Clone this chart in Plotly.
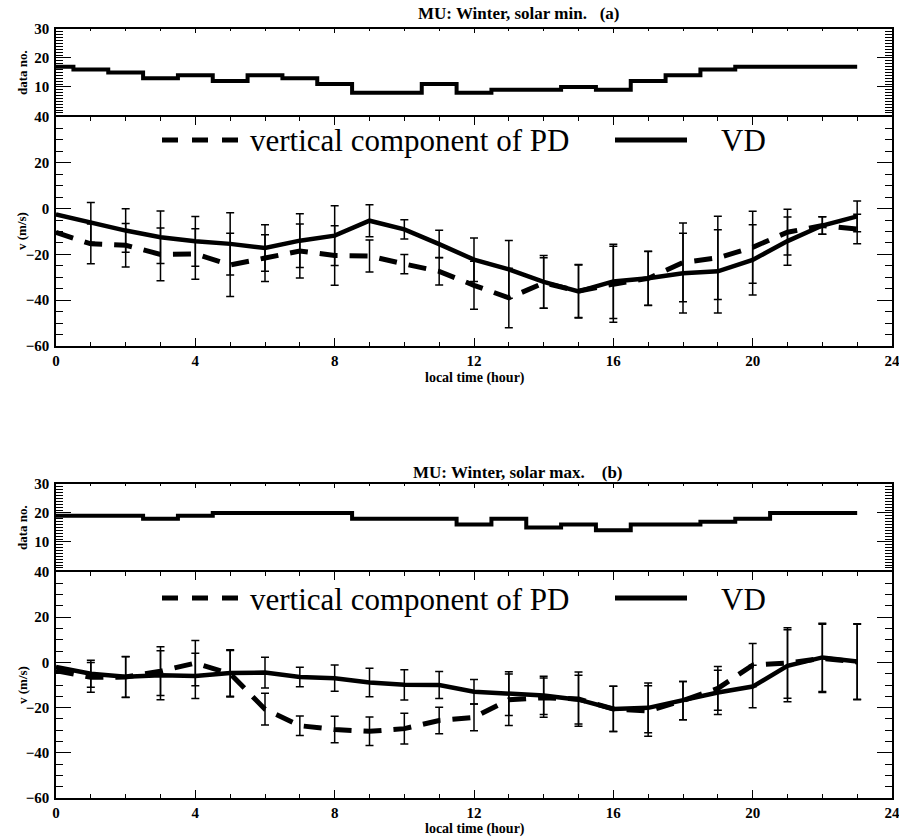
import plotly.graph_objects as go

# ---------------- data ----------------
hours = list(range(24))

# panel (a): MU winter, solar minimum
count_a = [17, 16, 15, 13, 14, 12, 14, 13, 11, 8, 8, 11, 8, 9, 9, 10, 9, 12, 14, 16, 17, 17, 17, 17]
vd_a = [-2.5, -6, -9.6, -12.5, -14.3, -15.4, -17.2, -14, -11.8, -5.3, -9.1, -15.5,
        -22.3, -26.5, -32, -36.2, -31.8, -30.4, -28.2, -27.4, -22.4, -14.2, -7.4, -3.4]
vd_a_err = [0, 8.7, 9.5, 11.5, 10.9, 13.6, 10.2, 11.7, 13, 7, 4.2, 6,
            9.5, 12.6, 11.5, 11.6, 16.2, 11.8, 17.4, 18.2, 15.3, 10.5, 3.8, 6.7]
pd_a = [-10.4, -15.4, -16, -20, -19.8, -24.6, -21.6, -18.5, -20.5, -20.7, -24.2, -27.4,
        -33.5, -39, -32.5, -36, -33, -30.5, -23.5, -21.5, -16.9, -10.3, -7.4, -8.9]
pd_a_err = [0, 8.7, 9.5, 11.5, 11, 13.8, 10.2, 11.8, 13, 7, 4.2, 6,
            10.5, 13, 11, 11.6, 16.6, 11.8, 17.2, 18.2, 15.7, 10, 3.8, 6.4]

# panel (b): MU winter, solar maximum
count_b = [19, 19, 19, 18, 19, 20, 20, 20, 20, 18, 18, 18, 16, 18, 15, 16, 14, 16, 16, 17, 18, 20, 20, 20]
vd_b = [-2, -5, -6.4, -5.7, -6, -4.7, -4.5, -6.5, -7, -8.9, -9.9, -10,
        -13, -13.8, -14.6, -16.5, -20.6, -20.1, -16.9, -13.3, -10.7, -1.5, 2.2, 0.4]
vd_b_err = [0, 6, 9, 10.8, 10, 10.3, 6.8, 4.3, 5.8, 6.3, 6.7, 6,
            5.4, 9.7, 8.5, 10.8, 10, 11, 8.5, 9.8, 9.4, 15.9, 15.1, 16.7]
pd_b = [-3.7, -6.6, -6.5, -3.9, -0.3, -5, -20.7, -28, -29.7, -30.5, -29.3, -25.7,
        -24.3, -16.5, -15.6, -16.2, -20.6, -21.5, -16.9, -11.5, -1.2, -0.3, 1.8, 0.2]
pd_b_err = [0, 6.6, 9, 10.8, 10, 10.3, 7, 4.3, 5.9, 6.3, 6.8, 5.9,
            5.9, 11.4, 8.7, 12, 10, 11.2, 8.5, 9.7, 9.6, 15.6, 15.1, 16.7]

titles = ["MU: Winter, solar min.\u00a0\u00a0\u00a0(a)", "MU: Winter, solar max.\u00a0\u00a0\u00a0\u00a0(b)"]
legend_pd = "vertical component of PD"
legend_vd = "VD"
xtitle = "local time (hour)"
ytitle_count = "data no."
ytitle_v = "v (m/s)"

# ---------------- figure ----------------
FONT = "Liberation Serif"
W, H = 899, 837
L, R, T, B = 56, 7, 29, 39
PW, PH = W - L - R, H - T - B


def px_x(p):
    return (p - L) / PW


def px_y(p):
    return (H - B - p) / PH


fig = go.Figure()

panels = [
    ("x", "y", "x2", "y2", count_a, vd_a, vd_a_err, pd_a, pd_a_err),
    ("x3", "y3", "x4", "y4", count_b, vd_b, vd_b_err, pd_b, pd_b_err),
]
for xd, yd, xm, ym, cnt, vd, vde, pdv, pde in panels:
    fig.add_trace(go.Scatter(x=hours, y=cnt, mode="lines", xaxis=xd, yaxis=yd,
                             line=dict(color="black", width=4, shape="hvh"), showlegend=False))
    fig.add_trace(go.Scatter(x=hours, y=pdv, mode="lines", xaxis=xm, yaxis=ym,
                             line=dict(color="black", width=5, dash="18px,12px"),
                             error_y=dict(type="data", array=pde, color="black", thickness=1.5, width=4),
                             showlegend=False))
    fig.add_trace(go.Scatter(x=hours, y=vd, mode="lines", xaxis=xm, yaxis=ym,
                             line=dict(color="black", width=4.5),
                             error_y=dict(type="data", array=vde, color="black", thickness=1.5, width=4),
                             showlegend=False))

tickfont = dict(family=FONT, size=15, color="black", weight="bold")


def xax_main(anchor):
    return dict(anchor=anchor, domain=[0, 1], range=[0, 24], tickmode="linear", tick0=0, dtick=4,
                ticks="inside", ticklen=8, tickwidth=1.2, tickcolor="black",
                minor=dict(dtick=1, ticks="inside", ticklen=4, tickwidth=1.2, tickcolor="black"),
                showline=True, linecolor="black", linewidth=1.5, mirror="ticks",
                showgrid=False, zeroline=False, showticklabels=True, tickfont=tickfont,
                ticklabelstandoff=0, automargin=False, ticklabeloverflow="allow")


def xax_count(anchor):
    return dict(anchor=anchor, domain=[0, 1], range=[0, 24], side="top", tickmode="linear", tick0=0, dtick=4,
                ticks="inside", ticklen=4, tickwidth=1, tickcolor="black",
                minor=dict(dtick=1, ticks="inside", ticklen=2, tickwidth=1, tickcolor="black"),
                showline=True, linecolor="black", linewidth=1.5, mirror=False,
                showgrid=False, zeroline=False, showticklabels=False, automargin=False)


def yax_count(anchor, dom):
    return dict(anchor=anchor, domain=dom, range=[-0.4, 30], tickmode="array", tickvals=[10, 20, 30],
                ticks="inside", ticklen=15, tickwidth=1.2, tickcolor="black",
                minor=dict(tickmode="linear", tick0=0, dtick=1, ticks="inside", ticklen=7, tickwidth=1, tickcolor="black"),
                showline=True, linecolor="black", linewidth=1.5, mirror="ticks",
                showgrid=False, zeroline=False, tickfont=tickfont, ticklabelstandoff=2, automargin=False)


def yax_v(anchor, dom):
    return dict(anchor=anchor, domain=dom, range=[-60, 40], tickmode="linear", tick0=0, dtick=20,
                ticks="inside", ticklen=15, tickwidth=1.2, tickcolor="black",
                minor=dict(dtick=5, ticks="inside", ticklen=7, tickwidth=1.2, tickcolor="black"),
                showline=True, linecolor="black", linewidth=1.5, mirror="ticks",
                showgrid=False, zeroline=False, tickfont=tickfont, ticklabelstandoff=2, automargin=False)


fig.update_layout(
    width=W, height=H,
    margin=dict(l=L, r=R, t=T, b=B, pad=0, autoexpand=False),
    paper_bgcolor="white", plot_bgcolor="white",
    font=dict(family=FONT, color="black"),
    showlegend=False,
    xaxis=xax_count("y"),
    yaxis=yax_count("x", [px_y(117), 1]),
    xaxis2=xax_main("y2"),
    yaxis2=yax_v("x2", [px_y(346), px_y(117)]),
    xaxis3=xax_count("y3"),
    yaxis3=yax_count("x3", [px_y(572), px_y(484)]),
    xaxis4=xax_main("y4"),
    yaxis4=yax_v("x4", [0, px_y(572)]),
)

annotations = []
shapes = []
for i, (title_y, legend_y, cnt_y, v_y, xt_y) in enumerate([
        (14, 141, 73, 231, 378), (472, 599, 528, 685, 829)]):
    annotations.append(dict(text=titles[i], x=px_x(518), y=px_y(title_y), xref="paper", yref="paper",
                            showarrow=False, xanchor="center", yanchor="middle",
                            font=dict(family=FONT, size=17, color="black", weight="bold")))
    annotations.append(dict(text=legend_pd, x=px_x(248), y=px_y(legend_y), xref="paper", yref="paper",
                            showarrow=False, xanchor="left", yanchor="middle",
                            font=dict(family=FONT, size=31, color="black")))
    annotations.append(dict(text=legend_vd, x=px_x(719), y=px_y(legend_y), xref="paper", yref="paper",
                            showarrow=False, xanchor="left", yanchor="middle",
                            font=dict(family=FONT, size=31, color="black")))
    annotations.append(dict(text=ytitle_count, x=px_x(22), y=px_y(cnt_y), xref="paper", yref="paper",
                            showarrow=False, xanchor="center", yanchor="middle", textangle=-90,
                            font=dict(family=FONT, size=13, color="black", weight="bold")))
    annotations.append(dict(text=ytitle_v, x=px_x(22), y=px_y(v_y), xref="paper", yref="paper",
                            showarrow=False, xanchor="center", yanchor="middle", textangle=-90,
                            font=dict(family=FONT, size=13, color="black", weight="bold")))
    annotations.append(dict(text=xtitle, x=px_x(475), y=px_y(xt_y), xref="paper", yref="paper",
                            showarrow=False, xanchor="center", yanchor="middle",
                            font=dict(family=FONT, size=14, color="black", weight="bold")))
    ly = px_y(legend_y - 1)
    shapes.append(dict(type="line", xref="paper", yref="paper", x0=px_x(162), x1=px_x(238), y0=ly, y1=ly,
                       line=dict(color="black", width=5, dash="16px,14px")))
    shapes.append(dict(type="line", xref="paper", yref="paper", x0=px_x(615), x1=px_x(687), y0=ly, y1=ly,
                       line=dict(color="black", width=5)))

fig.update_layout(annotations=annotations, shapes=shapes)

fig.write_html("out.html", config={"displayModeBar": False},
               post_script="document.body.style.margin='0px';document.body.style.overflow='hidden';")
